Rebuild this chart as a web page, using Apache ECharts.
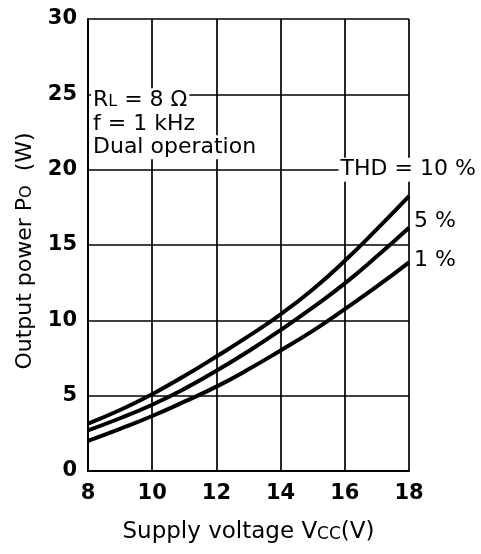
<!DOCTYPE html>
<html><head><meta charset="utf-8">
<script src="https://cdn.jsdelivr.net/npm/echarts@6/dist/echarts.min.js"></script>
<style>html,body{margin:0;padding:0;background:#fff}#c{width:481px;height:554px}</style>
</head><body><div id="c"></div>
<script>
const voltages = [8, 9, 10, 11, 12, 13, 14, 15, 16, 17, 18];
const thd10 = [3.15, 4.05, 5.1, 6.3, 7.6, 8.95, 10.4, 12.05, 13.95, 16.05, 18.25];
const thd5  = [2.7, 3.5, 4.4, 5.45, 6.65, 7.95, 9.35, 10.85, 12.45, 14.25, 16.15];
const thd1  = [2.0, 2.8, 3.65, 4.6, 5.6, 6.75, 8.0, 9.3, 10.75, 12.25, 13.85];
const seriesNames = ['THD = 10 %', '5 %', '1 %'];
const xTicks = [8, 10, 12, 14, 16, 18];
const yTicks = [0, 5, 10, 15, 20, 25, 30];
const noteLines = ['R{s|L} = 8 Ω', 'f = 1 kHz', 'Dual operation'];

const FONT = 'DejaVu Sans';
const chart = echarts.init(document.getElementById('c'), null, {renderer: 'canvas'});
function pairs(arr) { return voltages.map((v, i) => [v, arr[i]]); }
const curveStyle = {color: '#000', width: 4};
chart.setOption({
  animation: false,
  backgroundColor: '#fff',
  grid: {left: 88, right: 72, top: 19, bottom: 83, containLabel: false},
  xAxis: {
    type: 'value', min: xTicks[0], max: xTicks[xTicks.length - 1], interval: 2,
    axisLine: {show: true, lineStyle: {color: '#000', width: 2}},
    axisTick: {show: false},
    splitLine: {show: true, lineStyle: {color: '#000', width: 1.7}},
    axisLabel: {color: '#000', fontFamily: FONT, fontSize: 21, fontWeight: 'bold', margin: 12},
    name: 'Supply voltage V{s|CC}(V)', nameLocation: 'middle', nameGap: 50,
    nameTextStyle: {color: '#000', fontFamily: FONT, fontSize: 23,
      rich: {s: {fontFamily: FONT, fontSize: 17, color: '#000', verticalAlign: 'bottom', padding: [0,0,1,0]}}}
  },
  yAxis: {
    type: 'value', min: yTicks[0], max: yTicks[yTicks.length - 1], interval: 5,
    axisLine: {show: true, lineStyle: {color: '#000', width: 2}},
    axisTick: {show: false},
    splitLine: {show: true, lineStyle: {color: '#000', width: 1.7}},
    axisLabel: {color: '#000', fontFamily: FONT, fontSize: 21, fontWeight: 'bold', margin: 11},
    name: 'Output power P{s|O}  (W)', nameLocation: 'middle', nameRotate: 90, nameGap: 52,
    nameTextStyle: {color: '#000', fontFamily: FONT, fontSize: 22, padding: [0, 12, 0, 0],
      rich: {s: {fontFamily: FONT, fontSize: 16, color: '#000', verticalAlign: 'bottom', padding: [0,0,1,0]}}}
  },
  series: [
    {name: seriesNames[0], type: 'line', data: pairs(thd10), smooth: 0.5, symbol: 'none', lineStyle: curveStyle, z: 5},
    {name: seriesNames[1], type: 'line', data: pairs(thd5), smooth: 0.5, symbol: 'none', lineStyle: curveStyle, z: 5},
    {name: seriesNames[2], type: 'line', data: pairs(thd1), smooth: 0.5, symbol: 'none', lineStyle: curveStyle, z: 5}
  ]
});

function px(x, y) { return chart.convertToPixel({gridIndex: 0}, [x, y]); }
const richSub = {s: {font: '16px "' + FONT + '"', fill: '#000', verticalAlign: 'bottom', padding: [0, 0, 1, 0]}};
const txtStyle = (t, size) => ({text: t, fill: '#000', font: (size || 22) + 'px "' + FONT + '"',
  backgroundColor: '#fff', padding: [1, 2, 1, 2], verticalAlign: 'middle', align: 'left', rich: richSub});
const p1 = px(8, 25), p2 = px(15.9, 20), p3 = px(18, 16.6), p4 = px(18, 14);
const g = noteLines.map((t, i) => ({type: 'text', x: p1[0] + 3, y: p1[1] + 6 + i * 23.5, z: 10, style: txtStyle(t, 22)}));
g.push({type: 'text', x: p2[0] - 3, y: p2[1], z: 10, style: txtStyle(seriesNames[0], 22)});
g.push({type: 'text', x: p3[0] + 3, y: p3[1], z: 10, style: txtStyle(seriesNames[1], 22)});
g.push({type: 'text', x: p4[0] + 3, y: p4[1], z: 10, style: txtStyle(seriesNames[2], 22)});
chart.setOption({graphic: g});
</script></body></html>
